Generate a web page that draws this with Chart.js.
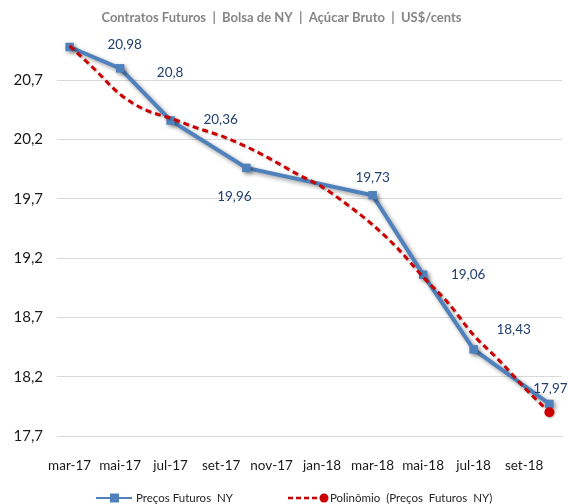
<!DOCTYPE html>
<html>
<head>
<meta charset="utf-8">
<script src="https://cdn.jsdelivr.net/npm/chart.js@4/dist/chart.umd.min.js"></script>
<style>
    body { margin: 0; background: #ffffff; }
    #grafico { display: block; }
</style>
</head>
<body>
<canvas id="grafico" width="568" height="504"></canvas>
<script>
// rótulos do eixo x (um a cada 2 meses, mar-17 = mês 0)
const rotulosMeses = ['mar-17', 'mai-17', 'jul-17', 'set-17', 'nov-17', 'jan-18', 'mar-18', 'mai-18', 'jul-18', 'set-18'];

// contratos: mar, mai, jul, out (meses contados a partir de mar-17)
const mesesContratos = [0, 2, 4, 7, 12, 14, 16, 19];
const precosFuturos = [20.98, 20.8, 20.36, 19.96, 19.73, 19.06, 18.43, 17.97];

// linha de tendência (mês a mês)
const mesesTendencia = [0, 1, 2, 3, 4, 5, 6, 7, 8, 9, 10, 11, 12, 13, 14, 15, 16, 17, 18, 19];
const valoresTendencia = [20.99, 20.79, 20.58, 20.45, 20.38, 20.30, 20.23, 20.14, 20.03, 19.91,
    19.80, 19.65, 19.48, 19.28, 19.04, 18.82, 18.55, 18.34, 18.11, 17.90];

const ticksY = [17.7, 18.2, 18.7, 19.2, 19.7, 20.2, 20.7];

const subtitulo = 'Contratos Futuros  |  Bolsa de NY  |  Açúcar Bruto  |  US$/cents';
const nomeSerie = 'Preços Futuros  NY';
const nomeTendencia = 'Polinômio  (Preços  Futuros  NY)';

const azul = '#4F81BD';
const vermelho = '#CC0000';
const fonte = 'Lato, "Open Sans", sans-serif';

// deslocamento de cada rótulo de dado em relação ao ponto
const posRotulos = [[55, -2], [50, 4], [50, -1], [-12, 29], [0, -18], [45, 0], [40, -20], [1, -15]];

function formatar(valor) {
    return String(valor).replace('.', ',');
}

const pluginSombra = {
    id: 'sombra',
    beforeDatasetDraw(chart, args) {
        const ctx = chart.ctx;
        ctx.save();
        if (args.index === 0) {
            ctx.shadowColor = 'rgba(0,0,0,0.40)';
            ctx.shadowBlur = 4;
            ctx.shadowOffsetX = 2;
            ctx.shadowOffsetY = 2;
        } else {
            ctx.shadowColor = 'rgba(0,0,0,0.25)';
            ctx.shadowBlur = 2;
            ctx.shadowOffsetX = 1;
            ctx.shadowOffsetY = 1;
        }
    },
    afterDatasetDraw(chart) {
        chart.ctx.restore();
    }
};

const pluginRotulos = {
    id: 'rotulos',
    afterDatasetsDraw(chart) {
        const ctx = chart.ctx;
        const meta = chart.getDatasetMeta(0);
        ctx.save();
        ctx.font = '13.5px ' + fonte;
        ctx.fillStyle = '#1F3F6E';
        ctx.textAlign = 'center';
        ctx.textBaseline = 'middle';
        for (let i = 0; i < meta.data.length; i++) {
            const ponto = meta.data[i];
            ctx.fillText(formatar(precosFuturos[i]), ponto.x + posRotulos[i][0], ponto.y + posRotulos[i][1]);
        }
        ctx.restore();
    }
};

const pluginLegenda = {
    id: 'legendaExcel',
    afterDraw(chart) {
        const ctx = chart.ctx;
        const y = 498;
        ctx.save();
        // série de preços
        ctx.strokeStyle = azul;
        ctx.lineWidth = 2;
        ctx.beginPath();
        ctx.moveTo(96, y);
        ctx.lineTo(132, y);
        ctx.stroke();
        ctx.fillStyle = azul;
        ctx.fillRect(110, y - 4.5, 9, 9);
        // tendência
        ctx.strokeStyle = vermelho;
        ctx.lineWidth = 2.5;
        ctx.setLineDash([5, 3]);
        ctx.beginPath();
        ctx.moveTo(288, y);
        ctx.lineTo(322, y);
        ctx.stroke();
        ctx.setLineDash([]);
        ctx.fillStyle = vermelho;
        ctx.beginPath();
        ctx.arc(324, y, 4.5, 0, Math.PI * 2);
        ctx.fill();
        // textos
        ctx.font = '11.5px ' + fonte;
        ctx.fillStyle = '#262626';
        ctx.textBaseline = 'middle';
        ctx.fillText(nomeSerie, 136, y);
        ctx.fillText(nomeTendencia, 330, y);
        ctx.restore();
    }
};

new Chart(document.getElementById('grafico'), {
    type: 'line',
    data: {
        datasets: [{
            label: nomeSerie,
            data: mesesContratos.map((m, i) => ({ x: m, y: precosFuturos[i] })),
            borderColor: azul,
            backgroundColor: azul,
            borderWidth: 4,
            pointStyle: 'rect',
            pointRadius: 6,
            pointBorderWidth: 0,
            tension: 0,
            order: 2
        }, {
            label: nomeTendencia,
            data: mesesTendencia.map((m, i) => ({ x: m, y: valoresTendencia[i] })),
            borderColor: vermelho,
            backgroundColor: vermelho,
            borderWidth: 3,
            borderDash: [6, 4],
            pointRadius: mesesTendencia.map((m, i) => i === mesesTendencia.length - 1 ? 5 : 0),
            pointBorderWidth: 0,
            cubicInterpolationMode: 'monotone',
            order: 1
        }]
    },
    options: {
        responsive: false,
        animation: false,
        clip: false,
        layout: {
            padding: { top: 0, right: 5, bottom: 30, left: 0 }
        },
        plugins: {
            legend: { display: false },
            tooltip: { enabled: false },
            title: {
                display: true,
                text: subtitulo,
                color: '#858585',
                font: { family: fonte, size: 13, weight: 'bold' },
                padding: { top: 10, bottom: 19 }
            }
        },
        scales: {
            x: {
                type: 'linear',
                min: -0.5,
                max: 19.5,
                afterBuildTicks: function (escala) {
                    escala.ticks = rotulosMeses.map((r, i) => ({ value: i * 2 }));
                },
                afterFit: function (escala) {
                    escala.height = 38;
                },
                ticks: {
                    autoSkip: false,
                    maxRotation: 0,
                    padding: 22,
                    color: '#1a1a1a',
                    font: { family: fonte, size: 13.5 },
                    callback: function (valor) {
                        return rotulosMeses[valor / 2];
                    }
                },
                grid: { display: false, drawTicks: false },
                border: { display: true, color: '#D9D9D9', width: 1 }
            },
            y: {
                min: 17.7,
                max: 21.0,
                afterBuildTicks: function (escala) {
                    escala.ticks = ticksY.map(v => ({ value: v }));
                },
                afterFit: function (escala) {
                    escala.width = 57;
                },
                ticks: {
                    padding: 14,
                    color: '#1a1a1a',
                    font: { family: fonte, size: 15 },
                    callback: function (valor) {
                        return valor.toFixed(1).replace('.', ',');
                    }
                },
                grid: { color: '#D9D9D9', lineWidth: 1, drawTicks: false },
                border: { display: false }
            }
        }
    },
    plugins: [pluginSombra, pluginRotulos, pluginLegenda]
});
</script>
</body>
</html>
